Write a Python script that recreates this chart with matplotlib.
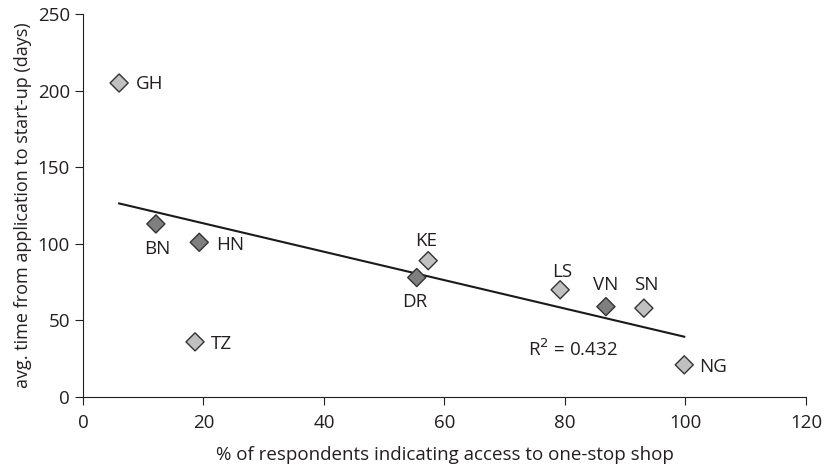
import numpy as np
import matplotlib
matplotlib.use("Agg")
import matplotlib.pyplot as plt

plt.rcParams['font.family'] = ['Open Sans', 'DejaVu Sans']

# country codes, % access to one-stop shop, avg days to start-up
countries = ['GH', 'BN', 'HN', 'TZ', 'KE', 'DR', 'LS', 'VN', 'SN', 'NG']
access_pct = [6.0, 12.1, 19.3, 18.6, 57.3, 55.4, 79.2, 86.8, 93.1, 99.8]
days = [205, 113, 101, 36, 89, 78, 70, 59, 58, 21]
dark = [False, True, True, False, False, True, False, True, False, False]

# label offsets in pixels from the marker
label_off = {'GH': (30, -1), 'BN': (1, -25), 'HN': (31, -3), 'TZ': (26, -2),
             'KE': (-2, 20), 'DR': (-2, -24), 'LS': (2, 18), 'VN': (0, 22),
             'SN': (2, 23), 'NG': (29, -2)}

fig = plt.figure(figsize=(8.24, 4.69), dpi=100)
ax = fig.add_axes([0.1007, 0.1535, 0.8774, 0.8165])

x = np.array(access_pct)
y = np.array(days)

# linear trend
slope, icpt = np.polyfit(x, y, 1)
xs = np.array([x.min(), x.max()])
ax.plot(xs, slope * xs + icpt, color='#1a1a1a', lw=1.5, zorder=2)

cols = ['#7f7f7f' if d else '#c0c0c0' for d in dark]
ax.scatter(x, y, marker='D', s=85, c=cols, edgecolors='#333333',
           linewidths=1.0, zorder=3)

fs = 13.5
for name, xi, yi in zip(countries, x, y):
    dx, dy = label_off[name]
    ax.annotate(name, (xi, yi), xytext=(dx, dy), textcoords='offset pixels',
                ha='center', va='center', fontsize=fs, color='#231f20')

ax.text(81.4, 31.3, 'R$^2$ = 0.432', ha='center', va='center',
        fontsize=fs, color='#231f20')

ax.set_xlim(0, 120)
ax.set_ylim(0, 250)
ax.set_xticks(range(0, 121, 20))
ax.set_yticks(range(0, 251, 50))
for s in ['top', 'right']:
    ax.spines[s].set_visible(False)
for s in ['left', 'bottom']:
    ax.spines[s].set_color('#231f20')
ax.tick_params(direction='out', length=6, labelsize=fs, colors='#231f20')
ax.tick_params(axis='x', pad=6)
ax.set_xlabel('% of respondents indicating access to one-stop shop',
              fontsize=fs, color='#231f20', labelpad=10)
ax.set_ylabel('avg. time from application to start-up (days)',
              fontsize=13, color='#231f20', labelpad=4)

fig.savefig('out.png', dpi=100)
